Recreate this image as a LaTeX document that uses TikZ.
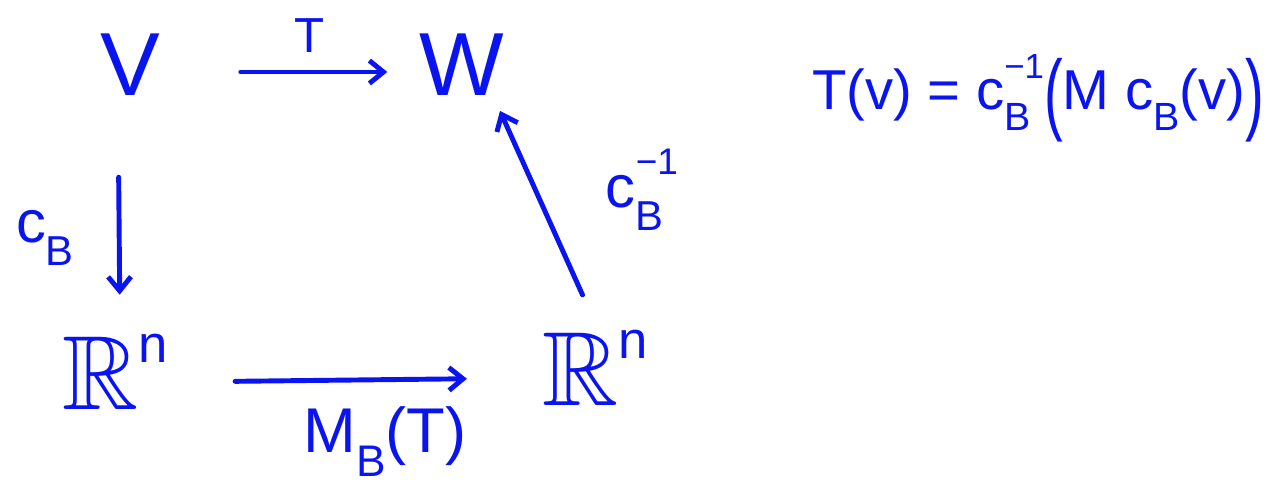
\documentclass[tikz,border=0pt]{standalone}
\usepackage{amssymb}
\usepackage{graphicx}
\usepackage{fontspec}
\setmainfont{Liberation Sans}
\usetikzlibrary{arrows.meta, positioning}
\definecolor{penblue}{HTML}{0A14F0}
% handwritten-like sub/superscripts in text mode
\newcommand{\lowsub}[1]{\raisebox{-0.38em}{\fontsize{0.7em}{0.7em}\selectfont #1}}
\newcommand{\subsup}[2]{%
  \sbox0{\fontsize{0.62em}{0.62em}\selectfont #2}\sbox2{\lowsub{#1}}%
  \rlap{\raisebox{0.55em}{\usebox0}}\usebox2%
  \ifdim\wd0>\wd2 \kern\dimexpr\wd0-\wd2\relax\fi}
\newcommand{\bigpar}[1]{\raisebox{-0.25em}{\scalebox{1}[1.6]{#1}}}

\begin{document}
\begin{tikzpicture}[
  x=0.02cm, y=-0.02cm,
  every node/.style={text=penblue},
  obj/.style={font=\fontsize{51}{60}\selectfont, inner sep=4pt},
  objbb/.style={font=\fontsize{60}{70}\selectfont, inner sep=4pt},
  lbl/.style={font=\fontsize{34}{40}\selectfont, inner sep=2pt},
  arrow/.style={-{Straight Barb[length=8pt, width=13pt]}, draw=penblue, line width=2.8pt, line cap=round},
]
\useasboundingbox (0,0) rectangle (1274,496);

% the square
\node[obj] (V) at (130,65) {V};
\node[obj] (W) at (462,65) {W};
\node[objbb] (Rl) at (115,372) {$\mathbb{R}$\raisebox{0.45em}{\fontsize{30}{32}\selectfont n}};
\node[objbb] (Rr) at (595,368) {$\mathbb{R}$\raisebox{0.45em}{\fontsize{30}{32}\selectfont n}};

% labels
\node[lbl, font=\fontsize{28}{34}\selectfont] (T) at (310,36) {T};
\node[lbl] (cB) at (45,238) {c\lowsub{B}};
\node[lbl, font=\fontsize{36}{42}\selectfont] (MB) at (385,442) {M\lowsub{B}(T)};
\node[lbl] (cBinv) at (642,190) {c\subsup{B}{−1}};

\draw[arrow, shorten <=1.47cm, shorten >=0.5cm] ([yshift=-0.14cm]V.east) -- ([yshift=-0.14cm]W.west);
\draw[arrow, shorten <=1.48cm, shorten >=0.64cm] ([xshift=-0.24cm]V.south) -- ([xshift=0.1cm]Rl.north);
\draw[arrow, shorten <=1.2cm, shorten >=1.36cm] ([yshift=-0.2cm]Rl.east) -- ([yshift=-0.2cm]Rr.west);
\draw[arrow, shorten <=0.61cm, shorten >=0.17cm] (Rr.north) -- ([xshift=0.69cm]W.south);

% the formula
\node[lbl, font=\fontsize{32}{38}\selectfont] (eq) at (1038,98)
  {T(v) = c\subsup{B}{−1}\bigpar{(}M c\lowsub{B}(v)\bigpar{)}};
\end{tikzpicture}
\end{document}
